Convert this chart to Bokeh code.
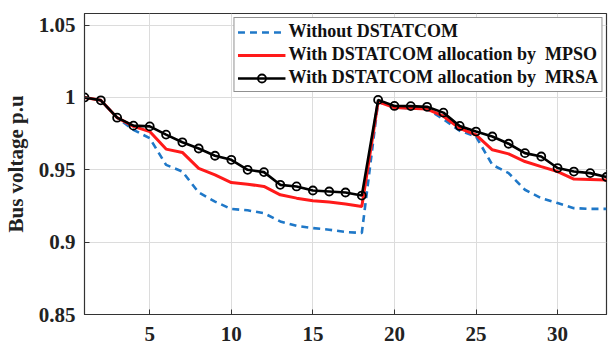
from bokeh.plotting import figure
from bokeh.models import Range1d, FixedTicker, Legend, LegendItem, ColumnDataSource
from bokeh.embed import file_html
from bokeh.resources import INLINE

buses = list(range(1, 34))
without_dstatcom = [1.000, 0.998, 0.986, 0.9776, 0.9718, 0.9534, 0.9488, 0.9343, 0.9280, 0.9229,
                    0.9220, 0.9200, 0.9143, 0.9113, 0.9097, 0.9086, 0.9070, 0.9063, 0.9970, 0.9930,
                    0.9925, 0.9920, 0.9850, 0.9770, 0.9730, 0.9534, 0.9477, 0.9362, 0.9304, 0.9270,
                    0.9235, 0.9230, 0.9230]
mpso = [1.000, 0.998, 0.986, 0.9800, 0.9764, 0.9643, 0.9620, 0.9510, 0.9465, 0.9412,
        0.9400, 0.9385, 0.9327, 0.9304, 0.9286, 0.9277, 0.9263, 0.9247, 0.9970, 0.9930,
        0.9925, 0.9920, 0.9870, 0.9787, 0.9741, 0.9638, 0.9610, 0.9557, 0.9522, 0.9488,
        0.9436, 0.9433, 0.9430]
mrsa = [1.000, 0.998, 0.986, 0.9805, 0.9800, 0.9743, 0.9690, 0.9647, 0.9597, 0.9569,
        0.9500, 0.9484, 0.9396, 0.9385, 0.9357, 0.9350, 0.9343, 0.9322, 0.9983, 0.9941,
        0.9940, 0.9935, 0.9895, 0.9803, 0.9764, 0.9730, 0.9680, 0.9615, 0.9592, 0.9512,
        0.9488, 0.9477, 0.9450]

x_ticks = [5, 10, 15, 20, 25, 30]
y_ticks = [0.85, 0.9, 0.95, 1.0, 1.05]
y_tick_labels = ["0.85", "0.9", "0.95", "1", "1.05"]
series_names = ["Without DSTATCOM",
                "With DSTATCOM allocation by  MPSO",
                "With DSTATCOM allocation by  MRSA"]
y_label = "Bus voltage p.u"

FONT = "Liberation Serif"

p = figure(width=608, height=347, output_backend="svg", toolbar_location=None,
           x_range=Range1d(1, 33), y_range=Range1d(0.85, 1.058),
           min_border_left=82, min_border_right=2, min_border_top=13, min_border_bottom=33)
p.background_fill_color = "white"
p.border_fill_color = "white"
p.outline_line_color = "#333333"
p.outline_line_width = 1.2

src = ColumnDataSource(dict(x=buses, a=without_dstatcom, b=mpso, c=mrsa))

r1 = p.line("x", "a", source=src, line_color="#1f78c8", line_width=2.6, line_dash="7 5")
r2 = p.line("x", "b", source=src, line_color="#ff1a1a", line_width=3)
r3 = p.line("x", "c", source=src, line_color="black", line_width=2.6)
r3m = p.scatter("x", "c", source=src, marker="circle", size=8, fill_color=None,
                line_color="black", line_width=1.8)

xa = p.xaxis[0]
xa.ticker = FixedTicker(ticks=x_ticks)
ya = p.yaxis[0]
ya.ticker = FixedTicker(ticks=y_ticks)
ya.major_label_overrides = {t: l for t, l in zip(y_ticks, y_tick_labels)}
ya.axis_label = y_label

for ax in (xa, ya):
    ax.major_label_text_font = FONT
    ax.major_label_text_font_style = "bold"
    ax.major_label_text_font_size = "21px"
    ax.major_label_text_color = "#222222"
    ax.major_tick_in = 5
    ax.major_tick_out = 0
    ax.minor_tick_in = 0
    ax.minor_tick_out = 0
    ax.axis_line_color = "#333333"
    ax.major_tick_line_color = "#333333"
xa.major_label_standoff = 12
ya.major_label_standoff = 9
ya.axis_label_text_font = FONT
ya.axis_label_text_font_style = "bold"
ya.axis_label_text_font_size = "21px"
ya.axis_label_text_color = "#222222"
ya.axis_label_standoff = 8

p.xgrid.ticker = FixedTicker(ticks=x_ticks)
p.ygrid.ticker = FixedTicker(ticks=y_ticks)
for g in (p.xgrid[0], p.ygrid[0]):
    g.grid_line_color = "#dcdcdc"
    g.grid_line_width = 1

legend = Legend(items=[LegendItem(label=series_names[0], renderers=[r1]),
                       LegendItem(label=series_names[1], renderers=[r2]),
                       LegendItem(label=series_names[2], renderers=[r3, r3m])],
                location="top_right")
legend.label_text_font = FONT
legend.label_text_font_style = "bold"
legend.label_text_font_size = "18px"
legend.label_text_color = "#111111"
legend.glyph_width = 48
legend.glyph_height = 20
legend.label_height = 20
legend.spacing = 2
legend.padding = 3
legend.margin = 4
legend.label_standoff = 3
legend.border_line_color = "#222222"
legend.border_line_width = 1.2
legend.background_fill_alpha = 1
p.add_layout(legend, "center")

open("out.html", "w").write(file_html(p, INLINE))
